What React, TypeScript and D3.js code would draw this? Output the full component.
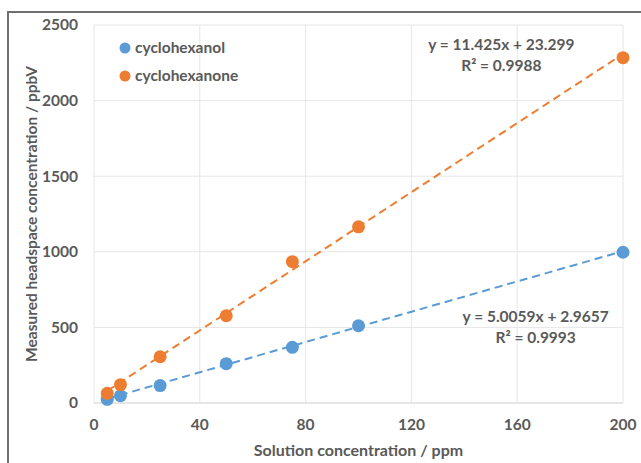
import React from 'react'
import * as d3 from 'd3'

// solution concentration, ppm
const concentrations = [5, 10, 25, 50, 75, 100, 200]
// measured headspace, ppbV
const cyclohexanol = [24, 48, 115, 260, 368, 511, 997]
const cyclohexanone = [64, 121, 306, 577, 935, 1165, 2284]

const seriesNames = ['cyclohexanol', 'cyclohexanone']
const seriesColors = ['#5b9bd5', '#ed7d31']
const fitSlopes = [5.0059, 11.425]
const fitIntercepts = [2.9657, 23.299]
const fitLabels = [
  ['y = 5.0059x + 2.9657', 'R² = 0.9993'],
  ['y = 11.425x + 23.299', 'R² = 0.9988'],
]

const xTicks = [0, 40, 80, 120, 160, 200]
const yTicks = [0, 500, 1000, 1500, 2000, 2500]

const W = 641
const H = 463
const margin = { top: 25, right: 18, bottom: 60, left: 94 }
const FONT = 'Lato, "Open Sans", sans-serif'
const TEXT = '#595959'
const FS = 15.5

export default function App() {
  const w = W - margin.left - margin.right
  const h = H - margin.top - margin.bottom
  const x = d3.scaleLinear().domain([0, 200]).range([0, w])
  const y = d3.scaleLinear().domain([0, 2500]).range([h, 0])

  const series = [cyclohexanol, cyclohexanone]
  const xExtent = d3.extent(concentrations) as [number, number]

  // label anchors in data coordinates
  const labelPos = [
    { x: 167, y: 537 },
    { x: 154, y: 2334 },
  ]

  return (
    <svg width={W} height={H} style={{ position: 'absolute', left: 0, top: 0, background: '#fff' }}>
      <rect x={8} y={12} width={W + 20} height={H + 20} fill="#fff" stroke="#707070" strokeWidth={2} />
      <g transform={`translate(${margin.left},${margin.top})`} fontFamily={FONT} fontWeight={700}>
        {/* grid */}
        {yTicks.map(t => (
          <line key={'gy' + t} x1={0} x2={w} y1={y(t)} y2={y(t)} stroke="#e6e6e6" strokeWidth={1} />
        ))}
        {xTicks.map(t => (
          <line key={'gx' + t} x1={x(t)} x2={x(t)} y1={0} y2={h} stroke="#e6e6e6" strokeWidth={1} />
        ))}
        <line x1={0} x2={w} y1={h} y2={h} stroke="#d9d9d9" strokeWidth={1} />

        {/* tick labels */}
        {yTicks.map(t => (
          <text key={'ty' + t} x={-16} y={y(t)} dy="0.35em" textAnchor="end" fontSize={FS} fill={TEXT}>
            {t}
          </text>
        ))}
        {xTicks.map(t => (
          <text key={'tx' + t} x={x(t)} y={h + 22} dy="0.35em" textAnchor="middle" fontSize={FS} fill={TEXT}>
            {t}
          </text>
        ))}

        {/* axis titles */}
        <text x={w / 2} y={h + 47} dy="0.35em" textAnchor="middle" fontSize={FS + 0.5} fill={TEXT}>
          Solution concentration / ppm
        </text>
        <text
          transform={`translate(${32 - margin.left},${h / 2}) rotate(-90)`}
          textAnchor="middle"
          dy="0.35em"
          fontSize={FS}
          fill={TEXT}
        >
          Measured headspace concentration / ppbV
        </text>

        {/* trendlines */}
        {series.map((_, s) => {
          const pts = xExtent.map(v => [x(v), y(fitSlopes[s] * v + fitIntercepts[s])] as [number, number])
          return (
            <path
              key={'fit' + s}
              d={d3.line()(pts) || ''}
              fill="none"
              stroke={seriesColors[s]}
              strokeWidth={2}
              strokeDasharray="8,5"
            />
          )
        })}

        {/* points */}
        {series.map((vals, s) => (
          <g key={'pts' + s}>
            {vals.map((v, i) => (
              <circle key={i} cx={x(concentrations[i])} cy={y(v)} r={6.5} fill={seriesColors[s]} />
            ))}
          </g>
        ))}

        {/* fit labels */}
        {fitLabels.map((lines, s) => (
          <text key={'fl' + s} textAnchor="middle" fontSize={FS} fill={TEXT}>
            {lines.map((l, i) => (
              <tspan key={i} x={x(labelPos[s].x)} y={y(labelPos[s].y) + i * 21}>
                {l}
              </tspan>
            ))}
          </text>
        ))}

        {/* legend */}
        {seriesNames.map((n, s) => (
          <g key={'lg' + s} transform={`translate(31,${23 + s * 28})`}>
            <circle cx={0} cy={0} r={5.5} fill={seriesColors[s]} />
            <text x={10} y={0} dy="0.35em" fontSize={FS} fill={TEXT}>
              {n}
            </text>
          </g>
        ))}
      </g>
    </svg>
  )
}
